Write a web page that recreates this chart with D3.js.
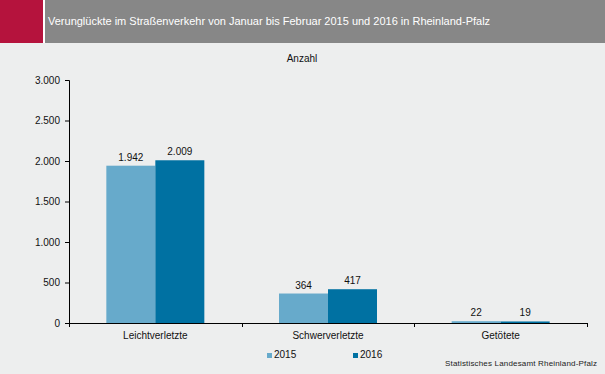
<!DOCTYPE html>
<html><head><meta charset="utf-8">
<script src="https://cdn.jsdelivr.net/npm/d3@7"></script>
<style>
html,body{margin:0;padding:0;background:#edeeee;}
svg{display:block;font-family:"Liberation Sans",Arial,sans-serif;}
</style></head>
<body>
<svg id="c" width="605" height="374"></svg>
<script>
const categories = ["Leichtverletzte", "Schwerverletzte", "Getötete"];
const seriesNames = ["2015", "2016"];
const values2015 = [1942, 364, 22];
const values2016 = [2009, 417, 19];
const yTicks = [0, 500, 1000, 1500, 2000, 2500, 3000];
const colors = ["#67aacb", "#0071a2"];
const title = "Verunglückte im Straßenverkehr von Januar bis Februar 2015 und 2016 in Rheinland-Pfalz";
const unitLabel = "Anzahl";
const source = "Statistisches Landesamt Rheinland-Pfalz";

const svg = d3.select("#c");
const W = 605, H = 374;
svg.append("rect").attr("width", W).attr("height", H).attr("fill", "#edeeee");
// header
svg.append("rect").attr("x", 0).attr("y", 0).attr("width", 43).attr("height", 43).attr("fill", "#b5133d");
svg.append("rect").attr("x", 43).attr("y", 0).attr("width", 2).attr("height", 43).attr("fill", "#ffffff");
svg.append("rect").attr("x", 45).attr("y", 0).attr("width", W - 45).attr("height", 43).attr("fill", "#878787");
svg.append("text").attr("x", 48).attr("y", 25).attr("fill", "#ffffff").attr("font-size", "11px").text(title);

svg.append("text").attr("x", 302).attr("y", 62).attr("text-anchor", "middle").attr("font-size", "10px").attr("fill", "#111").text(unitLabel);

const x0 = 69, x1 = 587, yTop = 80, yBot = 323;
const x = d3.scaleBand().domain(categories).range([x0, x1]).paddingInner(0).paddingOuter(0);
const y = d3.scaleLinear().domain([0, 3000]).range([yBot, yTop]);
const bw = 49;
const xs = d3.scaleBand().domain(seriesNames).range([0, 2 * bw]);

const data = categories.map((c, i) => ({cat: c, vals: [values2015[i], values2016[i]]}));

// y axis
const yAxis = d3.axisLeft(y).tickValues(yTicks).tickSize(4).tickPadding(5)
  .tickFormat(d => d3.format(",")(d).replace(/,/g, "."));
const gy = svg.append("g").attr("transform", `translate(${x0},0)`).call(yAxis);
gy.select(".domain").attr("d", `M-4,${yTop}.5H0.5V${yBot}`).attr("stroke", "#000");
gy.selectAll(".tick line").attr("stroke", "#000");
gy.selectAll("text").attr("font-size", "10px").attr("fill", "#111").attr("font-family", "Liberation Sans, Arial, sans-serif");

// bars
const g = svg.append("g");
data.forEach(d => {
  const cx = x(d.cat) + x.bandwidth() / 2 - bw;
  d.vals.forEach((v, j) => {
    const bx = cx + xs(seriesNames[j]);
    g.append("rect").attr("x", bx).attr("y", y(v)).attr("width", bw)
      .attr("height", yBot - y(v)).attr("fill", colors[j]);
    g.append("text").attr("x", bx + bw / 2).attr("y", y(v) - 5)
      .attr("text-anchor", "middle").attr("font-size", "10px").attr("fill", "#111")
      .text(d3.format(",")(v).replace(/,/g, "."));
  });
});

// x axis
const gx = svg.append("g").attr("transform", `translate(0,${yBot})`);
gx.append("line").attr("x1", x0).attr("x2", x1 + 0.5).attr("y1", 0.5).attr("y2", 0.5).attr("stroke", "#000");
const bounds = [x0].concat(categories.map(c => x(c) + x.bandwidth()));
bounds.forEach(b => {
  gx.append("line").attr("x1", Math.round(b) + 0.5).attr("x2", Math.round(b) + 0.5)
    .attr("y1", 0).attr("y2", 4).attr("stroke", "#000");
});
categories.forEach(c => {
  gx.append("text").attr("x", x(c) + x.bandwidth() / 2).attr("y", 16)
    .attr("text-anchor", "middle").attr("font-size", "10px").attr("fill", "#111").text(c);
});

// legend
const legX = [267, 353];
seriesNames.forEach((s, i) => {
  svg.append("rect").attr("x", legX[i]).attr("y", 353).attr("width", 5).attr("height", 5).attr("fill", colors[i]);
  svg.append("text").attr("x", legX[i] + 7).attr("y", 358).attr("font-size", "10px").attr("fill", "#111").text(s);
});

svg.append("text").attr("x", 597).attr("y", 366).attr("text-anchor", "end")
  .attr("font-size", "8px").attr("fill", "#222").attr("textLength", 152).text(source);
</script>
</body></html>
